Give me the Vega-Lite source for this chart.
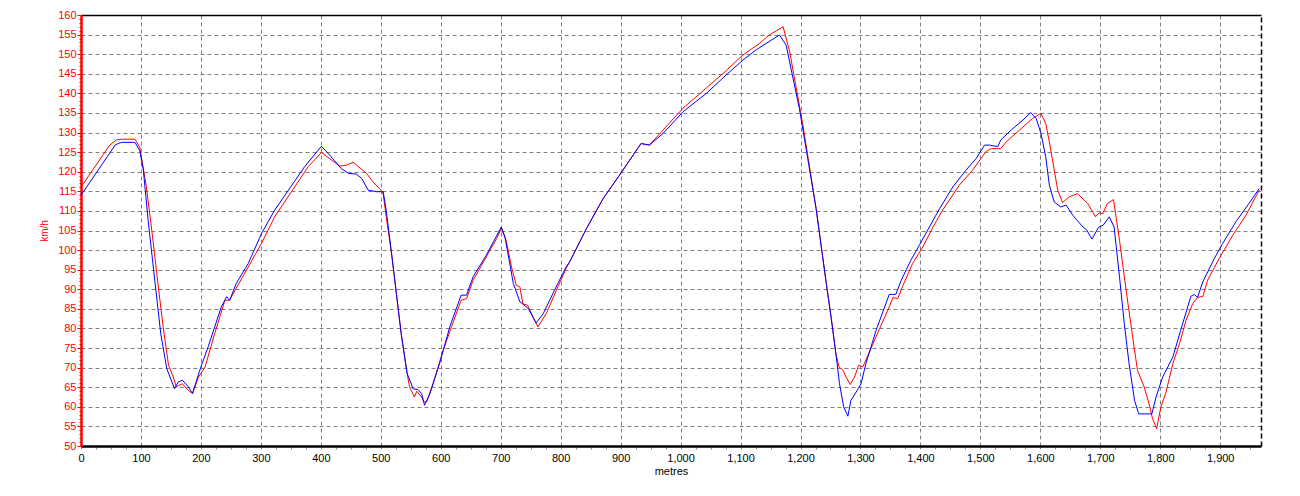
{
  "$schema": "https://vega.github.io/schema/vega-lite/v6.json",
  "width": 1180,
  "height": 431,
  "autosize": {"type": "none"},
  "padding": {"left": 81, "top": 15, "right": 39, "bottom": 50},
  "background": "white",
  "config": {
    "view": {"stroke": null},
    "font": "Liberation Sans",
    "axis": {"labelFont": "Liberation Sans", "titleFont": "Liberation Sans"}
  },
  "layer": [
    {
      "data": {"values": [
        {"distance":0,"speed":116.1},{"distance":48,"speed":126.8},{"distance":59,"speed":128.1},{"distance":68,"speed":128.3},{"distance":90,"speed":128.3},{"distance":98,"speed":126.2},{"distance":109,"speed":116.2},{"distance":118,"speed":105.1},{"distance":129,"speed":90.6},{"distance":137,"speed":80.4},{"distance":146,"speed":70.6},{"distance":154,"speed":67.6},{"distance":159,"speed":65.1},{"distance":169,"speed":65.9},{"distance":179,"speed":64.2},{"distance":186,"speed":63.4},{"distance":196,"speed":67.6},{"distance":207,"speed":70.2},{"distance":223,"speed":78.7},{"distance":240,"speed":87.2},{"distance":248,"speed":87.2},{"distance":257,"speed":89.8},{"distance":279,"speed":95.7},{"distance":301,"speed":101.7},{"distance":323,"speed":108.5},{"distance":351,"speed":114.9},{"distance":379,"speed":121.3},{"distance":401,"speed":124.9},{"distance":432,"speed":121.4},{"distance":443,"speed":121.7},{"distance":454,"speed":122.4},{"distance":476,"speed":119.6},{"distance":487,"speed":117.4},{"distance":498,"speed":115.7},{"distance":504,"speed":114.4},{"distance":509,"speed":108.5},{"distance":518,"speed":99.1},{"distance":526,"speed":88.9},{"distance":534,"speed":78.7},{"distance":543,"speed":69.3},{"distance":548,"speed":65.1},{"distance":556,"speed":62.5},{"distance":560,"speed":64.0},{"distance":568,"speed":62.5},{"distance":572,"speed":61.2},{"distance":577,"speed":61.4},{"distance":587,"speed":65.9},{"distance":604,"speed":74.4},{"distance":620,"speed":81.3},{"distance":634,"speed":87.2},{"distance":643,"speed":87.6},{"distance":654,"speed":92.3},{"distance":676,"speed":98.3},{"distance":693,"speed":102.9},{"distance":701,"speed":105.5},{"distance":709,"speed":102.5},{"distance":718,"speed":95.7},{"distance":726,"speed":91.0},{"distance":732,"speed":90.6},{"distance":737,"speed":86.3},{"distance":745,"speed":85.9},{"distance":754,"speed":82.9},{"distance":762,"speed":80.4},{"distance":776,"speed":83.8},{"distance":793,"speed":89.8},{"distance":809,"speed":95.3},{"distance":815,"speed":97.0},{"distance":843,"speed":105.5},{"distance":871,"speed":113.2},{"distance":898,"speed":119.1},{"distance":934,"speed":127.2},{"distance":948,"speed":126.8},{"distance":968,"speed":130.2},{"distance":1004,"speed":136.2},{"distance":1043,"speed":141.4},{"distance":1071,"speed":145.1},{"distance":1104,"speed":149.8},{"distance":1132,"speed":152.8},{"distance":1148,"speed":154.9},{"distance":1171,"speed":157.0},{"distance":1182,"speed":150.6},{"distance":1204,"speed":131.9},{"distance":1226,"speed":110.6},{"distance":1243,"speed":91.5},{"distance":1251,"speed":82.9},{"distance":1259,"speed":73.6},{"distance":1264,"speed":70.2},{"distance":1271,"speed":69.3},{"distance":1276,"speed":67.6},{"distance":1283,"speed":65.7},{"distance":1290,"speed":67.6},{"distance":1297,"speed":70.6},{"distance":1304,"speed":70.2},{"distance":1315,"speed":74.0},{"distance":1332,"speed":80.0},{"distance":1348,"speed":85.5},{"distance":1354,"speed":87.9},{"distance":1362,"speed":87.6},{"distance":1371,"speed":91.0},{"distance":1387,"speed":96.6},{"distance":1404,"speed":100.8},{"distance":1421,"speed":105.9},{"distance":1437,"speed":110.2},{"distance":1465,"speed":116.6},{"distance":1487,"speed":120.4},{"distance":1509,"speed":125.1},{"distance":1518,"speed":125.9},{"distance":1534,"speed":125.9},{"distance":1543,"speed":127.6},{"distance":1565,"speed":130.6},{"distance":1587,"speed":133.6},{"distance":1601,"speed":134.9},{"distance":1609,"speed":132.3},{"distance":1615,"speed":127.6},{"distance":1629,"speed":115.3},{"distance":1637,"speed":112.1},{"distance":1648,"speed":113.6},{"distance":1662,"speed":114.4},{"distance":1679,"speed":111.9},{"distance":1692,"speed":108.5},{"distance":1698,"speed":109.5},{"distance":1704,"speed":109.3},{"distance":1712,"speed":111.9},{"distance":1722,"speed":112.9},{"distance":1732,"speed":102.5},{"distance":1743,"speed":89.8},{"distance":1754,"speed":77.8},{"distance":1762,"speed":69.3},{"distance":1773,"speed":65.1},{"distance":1782,"speed":60.4},{"distance":1787,"speed":57.0},{"distance":1794,"speed":54.4},{"distance":1801,"speed":60.0},{"distance":1809,"speed":63.4},{"distance":1821,"speed":71.0},{"distance":1832,"speed":76.1},{"distance":1843,"speed":82.1},{"distance":1854,"speed":86.3},{"distance":1862,"speed":87.9},{"distance":1871,"speed":88.2},{"distance":1879,"speed":92.3},{"distance":1898,"speed":97.8},{"distance":1921,"speed":103.8},{"distance":1943,"speed":108.9},{"distance":1965,"speed":115.3}
      ]},
      "mark": {"type": "line", "color": "#ff0000", "strokeWidth": 1, "interpolate": "linear"},
      "encoding": {
        "x": {
          "field": "distance", "type": "quantitative",
          "scale": {"domain": [0, 1968], "nice": false, "zero": false},
          "axis": {
            "orient": "bottom",
            "title": "metres",
            "titleFontSize": 11, "titleFontWeight": "normal", "titleColor": "#000000", "titlePadding": 2,
            "values": [0,25,50,75,100,125,150,175,200,225,250,275,300,325,350,375,400,425,450,475,500,525,550,575,600,625,650,675,700,725,750,775,800,825,850,875,900,925,950,975,1000,1025,1050,1075,1100,1125,1150,1175,1200,1225,1250,1275,1300,1325,1350,1375,1400,1425,1450,1475,1500,1525,1550,1575,1600,1625,1650,1675,1700,1725,1750,1775,1800,1825,1850,1875,1900,1925,1950],
            "format": ",d",
            "labelExpr": "datum.value % 100 === 0 ? datum.label : ''",
            "labelFontSize": 11, "labelColor": "#000000", "labelPadding": 3,
            "labelOverlap": false, "labelFlush": false,
            "tickSize": 3, "tickColor": "#909090", "tickWidth": 1,
            "domainColor": "#000000", "domainWidth": 2.5,
            "grid": true,
            "gridColor": "#808080", "gridDash": [4, 3], "gridWidth": 1,
            "gridOpacity": {"condition": {"test": "datum.value % 100 === 0 && datum.value > 0", "value": 1}, "value": 0}
          }
        },
        "y": {
          "field": "speed", "type": "quantitative",
          "scale": {"domain": [50, 160], "nice": false, "zero": false},
          "axis": {
            "orient": "left",
            "title": "km/h",
            "titleFontSize": 10, "titleFontWeight": "normal", "titleColor": "#ff0000", "titlePadding": 8,
            "values": [50,51,52,53,54,55,56,57,58,59,60,61,62,63,64,65,66,67,68,69,70,71,72,73,74,75,76,77,78,79,80,81,82,83,84,85,86,87,88,89,90,91,92,93,94,95,96,97,98,99,100,101,102,103,104,105,106,107,108,109,110,111,112,113,114,115,116,117,118,119,120,121,122,123,124,125,126,127,128,129,130,131,132,133,134,135,136,137,138,139,140,141,142,143,144,145,146,147,148,149,150,151,152,153,154,155,156,157,158,159,160],
            "labelExpr": "datum.value % 5 === 0 ? datum.label : ''",
            "labelFontSize": 11, "labelColor": "#ff0000", "labelPadding": 1,
            "labelOverlap": false, "labelFlush": false,
            "tickColor": "#ff0000", "tickWidth": 1,
            "tickSize": {"condition": {"test": "datum.value % 5 === 0", "value": 4}, "value": 2},
            "domainColor": "#ff0000", "domainWidth": 2.5,
            "grid": true,
            "gridColor": "#808080", "gridDash": [4, 3], "gridWidth": 1,
            "gridOpacity": {"condition": {"test": "datum.value % 5 === 0 && datum.value > 50 && datum.value < 160", "value": 1}, "value": 0}
          }
        }
      }
    },
    {
      "data": {"values": [
        {"distance":0,"speed":114.0},{"distance":57,"speed":126.8},{"distance":62,"speed":127.2},{"distance":68,"speed":127.5},{"distance":90,"speed":127.5},{"distance":98,"speed":125.4},{"distance":104,"speed":120.4},{"distance":112,"speed":107.6},{"distance":123,"speed":92.3},{"distance":133,"speed":78.7},{"distance":143,"speed":69.8},{"distance":156,"speed":64.6},{"distance":162,"speed":66.3},{"distance":169,"speed":66.8},{"distance":179,"speed":65.1},{"distance":186,"speed":63.4},{"distance":198,"speed":69.3},{"distance":212,"speed":75.3},{"distance":234,"speed":85.5},{"distance":243,"speed":88.1},{"distance":248,"speed":87.2},{"distance":259,"speed":91.5},{"distance":279,"speed":96.6},{"distance":301,"speed":104.2},{"distance":323,"speed":110.2},{"distance":346,"speed":115.3},{"distance":373,"speed":121.3},{"distance":401,"speed":126.5},{"distance":415,"speed":124.2},{"distance":434,"speed":120.8},{"distance":446,"speed":119.6},{"distance":459,"speed":119.4},{"distance":468,"speed":118.3},{"distance":479,"speed":115.3},{"distance":493,"speed":114.9},{"distance":504,"speed":114.9},{"distance":509,"speed":110.2},{"distance":518,"speed":99.1},{"distance":526,"speed":88.9},{"distance":534,"speed":78.7},{"distance":544,"speed":68.5},{"distance":554,"speed":64.6},{"distance":562,"speed":64.4},{"distance":568,"speed":63.4},{"distance":573,"speed":60.4},{"distance":582,"speed":63.4},{"distance":598,"speed":71.0},{"distance":615,"speed":80.4},{"distance":634,"speed":88.5},{"distance":643,"speed":88.5},{"distance":654,"speed":93.2},{"distance":676,"speed":98.7},{"distance":701,"speed":105.9},{"distance":707,"speed":103.4},{"distance":721,"speed":91.5},{"distance":732,"speed":86.8},{"distance":746,"speed":85.1},{"distance":759,"speed":81.4},{"distance":771,"speed":83.8},{"distance":787,"speed":88.9},{"distance":809,"speed":95.7},{"distance":815,"speed":97.0},{"distance":843,"speed":105.5},{"distance":871,"speed":113.2},{"distance":898,"speed":119.1},{"distance":934,"speed":127.2},{"distance":948,"speed":126.8},{"distance":971,"speed":129.8},{"distance":1004,"speed":135.3},{"distance":1043,"speed":140.0},{"distance":1076,"speed":144.7},{"distance":1104,"speed":148.5},{"distance":1126,"speed":151.1},{"distance":1165,"speed":154.9},{"distance":1176,"speed":152.3},{"distance":1198,"speed":136.2},{"distance":1226,"speed":110.6},{"distance":1243,"speed":91.5},{"distance":1251,"speed":82.9},{"distance":1259,"speed":73.6},{"distance":1265,"speed":65.9},{"distance":1272,"speed":60.0},{"distance":1279,"speed":57.6},{"distance":1284,"speed":61.6},{"distance":1293,"speed":63.8},{"distance":1301,"speed":65.9},{"distance":1309,"speed":71.0},{"distance":1326,"speed":79.5},{"distance":1348,"speed":88.7},{"distance":1359,"speed":88.7},{"distance":1368,"speed":92.3},{"distance":1384,"speed":97.4},{"distance":1398,"speed":101.2},{"distance":1415,"speed":105.9},{"distance":1432,"speed":110.6},{"distance":1454,"speed":116.1},{"distance":1476,"speed":120.4},{"distance":1493,"speed":123.4},{"distance":1507,"speed":126.8},{"distance":1515,"speed":126.8},{"distance":1529,"speed":126.4},{"distance":1534,"speed":128.1},{"distance":1551,"speed":130.6},{"distance":1571,"speed":133.2},{"distance":1584,"speed":135.1},{"distance":1593,"speed":133.6},{"distance":1601,"speed":129.8},{"distance":1609,"speed":123.8},{"distance":1615,"speed":116.6},{"distance":1623,"speed":112.3},{"distance":1634,"speed":111.0},{"distance":1643,"speed":111.5},{"distance":1654,"speed":108.9},{"distance":1671,"speed":105.9},{"distance":1677,"speed":105.2},{"distance":1686,"speed":102.8},{"distance":1697,"speed":105.8},{"distance":1705,"speed":106.4},{"distance":1715,"speed":108.5},{"distance":1723,"speed":105.9},{"distance":1732,"speed":93.2},{"distance":1740,"speed":81.2},{"distance":1748,"speed":71.0},{"distance":1757,"speed":61.7},{"distance":1764,"speed":58.2},{"distance":1786,"speed":58.2},{"distance":1793,"speed":62.5},{"distance":1804,"speed":67.6},{"distance":1821,"speed":72.7},{"distance":1834,"speed":79.5},{"distance":1851,"speed":88.2},{"distance":1857,"speed":88.7},{"distance":1862,"speed":87.9},{"distance":1871,"speed":91.9},{"distance":1890,"speed":97.8},{"distance":1904,"speed":101.7},{"distance":1926,"speed":107.2},{"distance":1948,"speed":111.9},{"distance":1965,"speed":115.7}
      ]},
      "mark": {"type": "line", "color": "#0000ff", "strokeWidth": 1, "interpolate": "linear"},
      "encoding": {
        "x": {
          "field": "distance", "type": "quantitative",
          "scale": {"domain": [0, 1968], "nice": false, "zero": false},
          "axis": {"orient": "top", "title": null, "labels": false, "ticks": false, "grid": false, "domainColor": "#000000", "domainWidth": 1.5}
        },
        "y": {
          "field": "speed", "type": "quantitative",
          "scale": {"domain": [50, 160], "nice": false, "zero": false},
          "axis": {"orient": "right", "title": null, "labels": false, "ticks": false, "grid": false, "domainColor": "#000000", "domainWidth": 1.5, "domainDash": [5, 3]}
        }
      }
    }
  ],
  "resolve": {"axis": {"x": "independent", "y": "independent"}}
}
